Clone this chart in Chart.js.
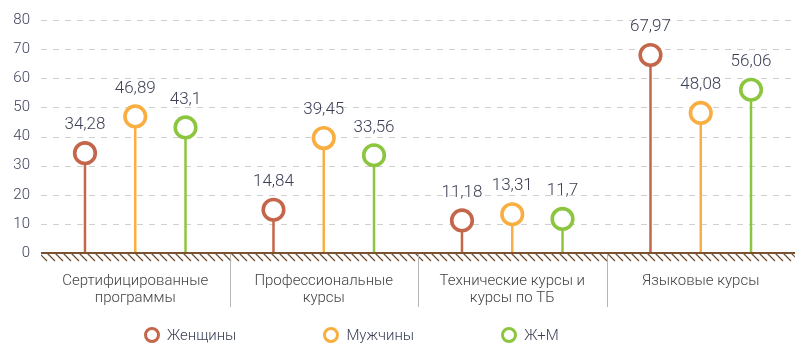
<!DOCTYPE html>
<html>
<head>
<meta charset="utf-8">
<script src="https://cdn.jsdelivr.net/npm/chart.js@4/dist/chart.umd.min.js"></script>
<style>
  html, body { margin:0; padding:0; background:#fff; }
  #wrap { position:relative; width:810px; height:363px; }
  #legend { position:absolute; left:144px; top:326px; display:flex; gap:87px;
            font-family:Roboto, 'Noto Sans', sans-serif; font-weight:300; font-size:15px; color:#3b3f55; }
  #legend .it { display:flex; align-items:center; gap:7px; }
  #legend .dot { width:10px; height:10px; border-radius:50%; border:3px solid; background:#fff; }
</style>
</head>
<body>
<div id="wrap">
  <canvas id="chart" width="810" height="363"></canvas>
  <div id="legend"></div>
</div>
<script>
// ── DATA ──────────────────────────────────────────────────────────────────────
const categories = [
  ['Сертифицированные', 'программы'],
  ['Профессиональные', 'курсы'],
  ['Технические курсы и', 'курсы по ТБ'],
  ['Языковые курсы']
];
const women = [34.28, 14.84, 11.18, 67.97];
const men   = [46.89, 39.45, 13.31, 48.08];
const both  = [43.1, 33.56, 11.7, 56.06];
const seriesNames  = ['Женщины', 'Мужчины', 'Ж+М'];
const seriesColors = ['#c4664a', '#f8ae40', '#8cc63f'];
const yTicks = [0, 10, 20, 30, 40, 50, 60, 70, 80];

const FONT = "Roboto, 'Noto Sans', sans-serif";
const fmtNum = v => String(v).replace('.', ',');

// ── LOLLIPOP HEADS, GROUND, DIVIDERS ─────────────────────────────────────────
const lollipop = {
  id: 'lollipop',
  beforeDatasetsDraw(chart) {
    const { ctx, chartArea: a, scales: { x, y } } = chart;
    ctx.save();
    // dashed grid
    ctx.strokeStyle = '#cfcfcf';
    ctx.lineWidth = 1;
    ctx.setLineDash([6, 6]);
    yTicks.slice(1).forEach(v => {
      const py = Math.round(y.getPixelForValue(v)) + 0.5;
      ctx.beginPath();
      ctx.moveTo(a.left, py);
      ctx.lineTo(a.right, py);
      ctx.stroke();
    });
    ctx.restore();
    ctx.save();
    // hatched ground under zero line
    ctx.beginPath();
    ctx.rect(a.left, a.bottom, a.right - a.left, 9);
    ctx.clip();
    ctx.strokeStyle = '#6b4a2b';
    ctx.lineWidth = 1.2;
    for (let px = a.left - 10; px < a.right + 10; px += 8) {
      ctx.beginPath();
      ctx.moveTo(px, a.bottom);
      ctx.lineTo(px + 8, a.bottom + 8);
      ctx.stroke();
    }
    ctx.restore();
    // category dividers
    ctx.save();
    ctx.strokeStyle = '#b5b5b5';
    ctx.lineWidth = 1;
    for (let i = 0; i < categories.length - 1; i++) {
      const px = Math.round((x.getPixelForValue(i) + x.getPixelForValue(i + 1)) / 2) + 0.5;
      ctx.beginPath();
      ctx.moveTo(px, a.bottom);
      ctx.lineTo(px, a.bottom + 54);
      ctx.stroke();
    }
    ctx.restore();
  },
  afterDatasetsDraw(chart) {
    const { ctx, chartArea: a } = chart;
    ctx.save();
    // zero line
    ctx.strokeStyle = '#7a5230';
    ctx.lineWidth = 2;
    ctx.beginPath();
    ctx.moveTo(a.left, a.bottom);
    ctx.lineTo(a.right, a.bottom);
    ctx.stroke();
    chart.data.datasets.forEach((ds, di) => {
      const meta = chart.getDatasetMeta(di);
      meta.data.forEach((bar, i) => {
        ctx.beginPath();
        ctx.arc(bar.x, bar.y, 10.3, 0, Math.PI * 2);
        ctx.fillStyle = '#fff';
        ctx.fill();
        ctx.lineWidth = 3.6;
        ctx.strokeStyle = seriesColors[di];
        ctx.stroke();
        ctx.fillStyle = '#3b3f55';
        ctx.font = '300 17px ' + FONT;
        ctx.textAlign = 'center';
        ctx.textBaseline = 'middle';
        ctx.fillText(fmtNum(ds.data[i]), bar.x, bar.y - 28);
      });
    });
    ctx.restore();
  }
};

// ── CHART ─────────────────────────────────────────────────────────────────────
new Chart(document.getElementById('chart'), {
  type: 'bar',
  data: {
    labels: categories,
    datasets: [women, men, both].map((d, i) => ({
      label: seriesNames[i],
      data: d,
      backgroundColor: seriesColors[i],
      maxBarThickness: 2.5,
      categoryPercentage: 0.8,
      barPercentage: 0.9
    }))
  },
  options: {
    responsive: false,
    animation: false,
    layout: { padding: { top: 16, right: 15, bottom: 50, left: 0 } },
    plugins: { legend: { display: false }, tooltip: { enabled: false } },
    scales: {
      x: {
        grid: { display: false },
        border: { display: false },
        afterFit: s => { s.height = 60; },
        ticks: { color: '#444', padding: 12, font: { family: FONT, size: 15, weight: 300, lineHeight: 1.1 } }
      },
      y: {
        min: 0, max: 80,
        afterBuildTicks: s => { s.ticks = yTicks.map(v => ({ value: v })); },
        afterFit: s => { s.width = 41; },
        grid: { display: false, drawTicks: false },
        border: { display: false },
        ticks: { color: '#3b3f5c', padding: 11, font: { family: FONT, size: 15, weight: 300 } }
      }
    }
  },
  plugins: [lollipop]
});

// ── LEGEND ────────────────────────────────────────────────────────────────────
document.getElementById('legend').innerHTML = seriesNames.map((n, i) => `
  <div class="it"><span class="dot" style="border-color:${seriesColors[i]}"></span><span>${n}</span></div>`).join('');
</script>
</body>
</html>
